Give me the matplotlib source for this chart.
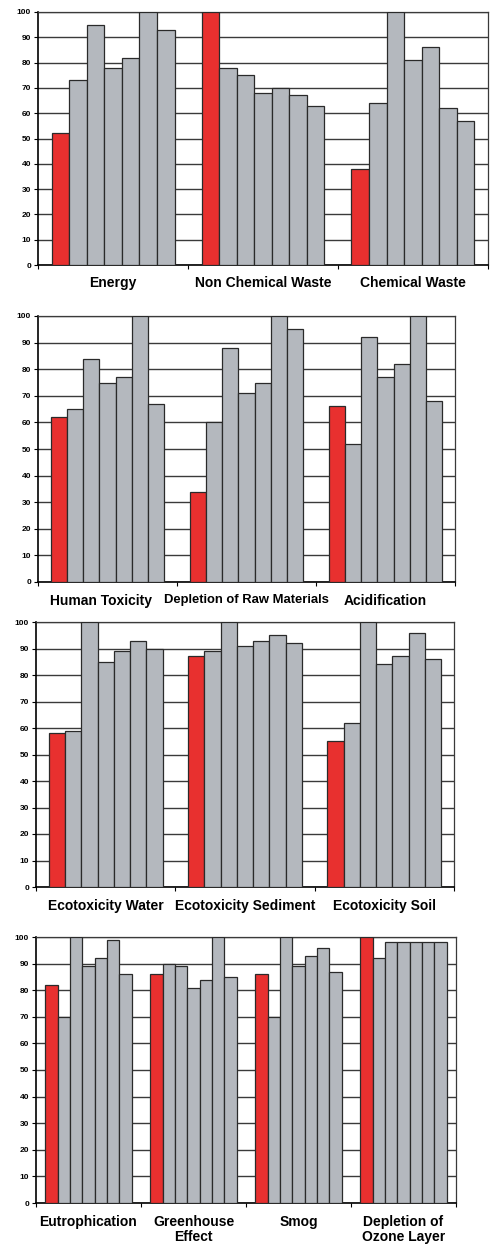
import matplotlib
matplotlib.use("Agg")
import matplotlib.pyplot as plt
import numpy as np

plt.rcParams['font.family'] = ['Liberation Sans', 'DejaVu Sans']

# ---- data ----
cats1 = ["Energy", "Non Chemical Waste", "Chemical Waste"]
vals1 = [
    [52, 73, 95, 78, 82, 100, 93],
    [100, 78, 75, 68, 70, 67, 63],
    [38, 64, 100, 81, 86, 62, 57],
]
cats2 = ["Human Toxicity", "Depletion of Raw Materials", "Acidification"]
vals2 = [
    [62, 65, 84, 75, 77, 100, 67],
    [34, 60, 88, 71, 75, 100, 95],
    [66, 52, 92, 77, 82, 100, 68],
]
cats3 = ["Ecotoxicity Water", "Ecotoxicity Sediment", "Ecotoxicity Soil"]
vals3 = [
    [58, 59, 100, 85, 89, 93, 90],
    [87, 89, 100, 91, 93, 95, 92],
    [55, 62, 100, 84, 87, 96, 86],
]
cats4 = ["Eutrophication", "Greenhouse\nEffect", "Smog", "Depletion of\nOzone Layer"]
vals4 = [
    [82, 70, 100, 89, 92, 99, 86],
    [86, 90, 89, 81, 84, 100, 85],
    [86, 70, 100, 89, 93, 96, 87],
    [100, 92, 98, 98, 98, 98, 98],
]
yticks = list(range(0, 101, 10))

RED = "#E8302F"
GRAY = "#B4B8BE"
EDGE = "#2a2a2a"

W, H = 495, 1245
fig = plt.figure(figsize=(W / 100, H / 100), dpi=100)

# (left, right, top, bottom) in pixels
boxes = [
    (38, 488, 12, 265),
    (38, 455, 316, 582),
    (36, 454, 622, 887),
    (36, 456, 937, 1203),
]
panels = [(cats1, vals1), (cats2, vals2), (cats3, vals3), (cats4, vals4)]

for (l, r, t, b), (cats, vals) in zip(boxes, panels):
    ax = fig.add_axes([l / W, 1 - b / H, (r - l) / W, (b - t) / H])
    n = len(cats)
    nb = len(vals[0])
    gw = 0.82
    bw = gw / nb
    for i, grp in enumerate(vals):
        xs = i - gw / 2 + bw / 2 + np.arange(nb) * bw
        colors = [RED] + [GRAY] * (nb - 1)
        ax.bar(xs, grp, width=bw, color=colors, edgecolor=EDGE,
               linewidth=0.9, zorder=3)
    ax.set_xlim(-0.5, n - 0.5)
    ax.set_ylim(0, 100)
    ax.set_yticks(yticks)
    ax.set_yticklabels([str(v) for v in yticks], fontsize=6,
                       fontweight='bold')
    ax.yaxis.grid(True, color="#3a3a3a", linewidth=1.0, zorder=0)
    ax.set_axisbelow(True)
    ax.set_xticks(np.arange(-0.5, n, 1.0))
    ax.set_xticklabels([])
    ax.tick_params(axis='x', length=3, width=0.8, direction='out')
    ax.tick_params(axis='y', length=3, width=0.8, direction='out', pad=2)
    pw = r - l
    for i, c in enumerate(cats):
        fs = 10
        dx = 0.0
        if c == "Depletion of Raw Materials":
            fs = 9.4
        if c == "Human Toxicity":
            dx = -6.0 / (pw / n)
        ax.text(i + dx, -0.045, c,
                transform=ax.get_xaxis_transform(),
                ha='center', va='top', fontsize=fs, fontweight='bold',
                linespacing=1.1)
    for s in ['left', 'bottom']:
        ax.spines[s].set_linewidth(1.2)
        ax.spines[s].set_color('black')
    for s in ['top', 'right']:
        ax.spines[s].set_linewidth(0.9)
        ax.spines[s].set_color('#3a3a3a')

fig.savefig("out.png", dpi=100, facecolor='white')
